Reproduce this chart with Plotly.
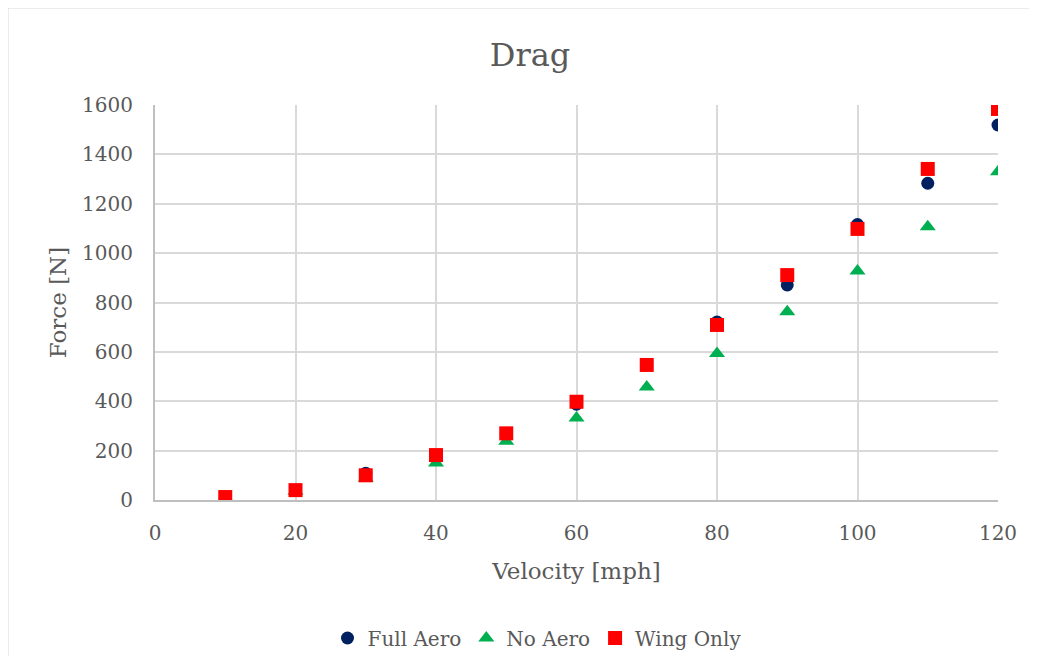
import plotly.graph_objects as go

velocity = [10, 20, 30, 40, 50, 60, 70, 80, 90, 100, 110, 120]
full_aero = [10, 40, 108, 180, 268, 388, 548, 721, 871, 1116, 1283, 1519]
no_aero = [8, 35, 88, 150, 238, 332, 458, 593, 763, 928, 1107, 1330]
wing_only = [12, 40, 100, 182, 270, 398, 547, 709, 911, 1098, 1341, 1584]

FONT = "DejaVu Serif"
GRAY = "#595959"

# page body has an 8px margin, so the figure is shrunk to fit and offsets shifted
W, H = 1021, 648
L, R, T, B = 147, 31, 97, 156
PW, PH = W - L - R, H - T - B

fig = go.Figure()
fig.add_trace(go.Scatter(x=velocity, y=full_aero, mode="markers", name="Full Aero",
                         marker=dict(symbol="circle", size=13, color="#002060")))
fig.add_trace(go.Scatter(x=velocity, y=no_aero, mode="markers", name="No Aero",
                         marker=dict(symbol="triangle-up", size=14, color="#00B050")))
fig.add_trace(go.Scatter(x=velocity, y=wing_only, mode="markers", name="Wing Only",
                         marker=dict(symbol="square", size=14, color="#FF0000")))

fig.update_layout(
    width=W, height=H,
    margin=dict(l=L, r=R, t=T, b=B),
    paper_bgcolor="white", plot_bgcolor="white",
    font=dict(family=FONT, color=GRAY, size=18),
    title=dict(text="Drag", x=(530 - 8) / W, xanchor="center", y=1 - 47 / H, yanchor="middle",
               font=dict(family=FONT, size=32, color=GRAY)),
    xaxis=dict(range=[0, 120], tickvals=[0, 20, 40, 60, 80, 100, 120],
               showgrid=True, gridcolor="#D9D9D9", gridwidth=2,
               showline=True, linecolor="#BFBFBF", linewidth=2,
               zeroline=False, ticks="", ticklabelstandoff=14,
               tickfont=dict(size=20, color=GRAY),
               title=dict(text="Velocity [mph]", font=dict(size=23, color=GRAY), standoff=19)),
    yaxis=dict(range=[0, 1600], tickvals=list(range(0, 1601, 200)),
               showgrid=True, gridcolor="#D9D9D9", gridwidth=2,
               showline=True, linecolor="#BFBFBF", linewidth=2,
               zeroline=False, ticks="", ticklabelstandoff=16,
               tickfont=dict(size=20, color=GRAY),
               title=dict(text="Force [N]", font=dict(size=23, color=GRAY), standoff=9)),
    legend=dict(orientation="h", x=(537 - 8) / W, xanchor="center", xref="container",
                y=1 - 630 / H, yanchor="middle", yref="container",
                font=dict(size=20, color=GRAY), itemwidth=30, traceorder="normal"),
    showlegend=True,
)

# outer chart border (left and top edges visible)
bx = (-0.5 - L) / PW
by = (T + PH + 0.5) / PH
fig.add_shape(type="line", xref="paper", yref="paper",
              x0=bx, x1=bx, y0=-(H + 30 - (T + PH)) / PH, y1=by,
              line=dict(color="#D9D9D9", width=2))
fig.add_shape(type="line", xref="paper", yref="paper",
              x0=bx, x1=(W + 30 - L) / PW, y0=by, y1=by,
              line=dict(color="#D9D9D9", width=2))

fig.write_html("out.html")
